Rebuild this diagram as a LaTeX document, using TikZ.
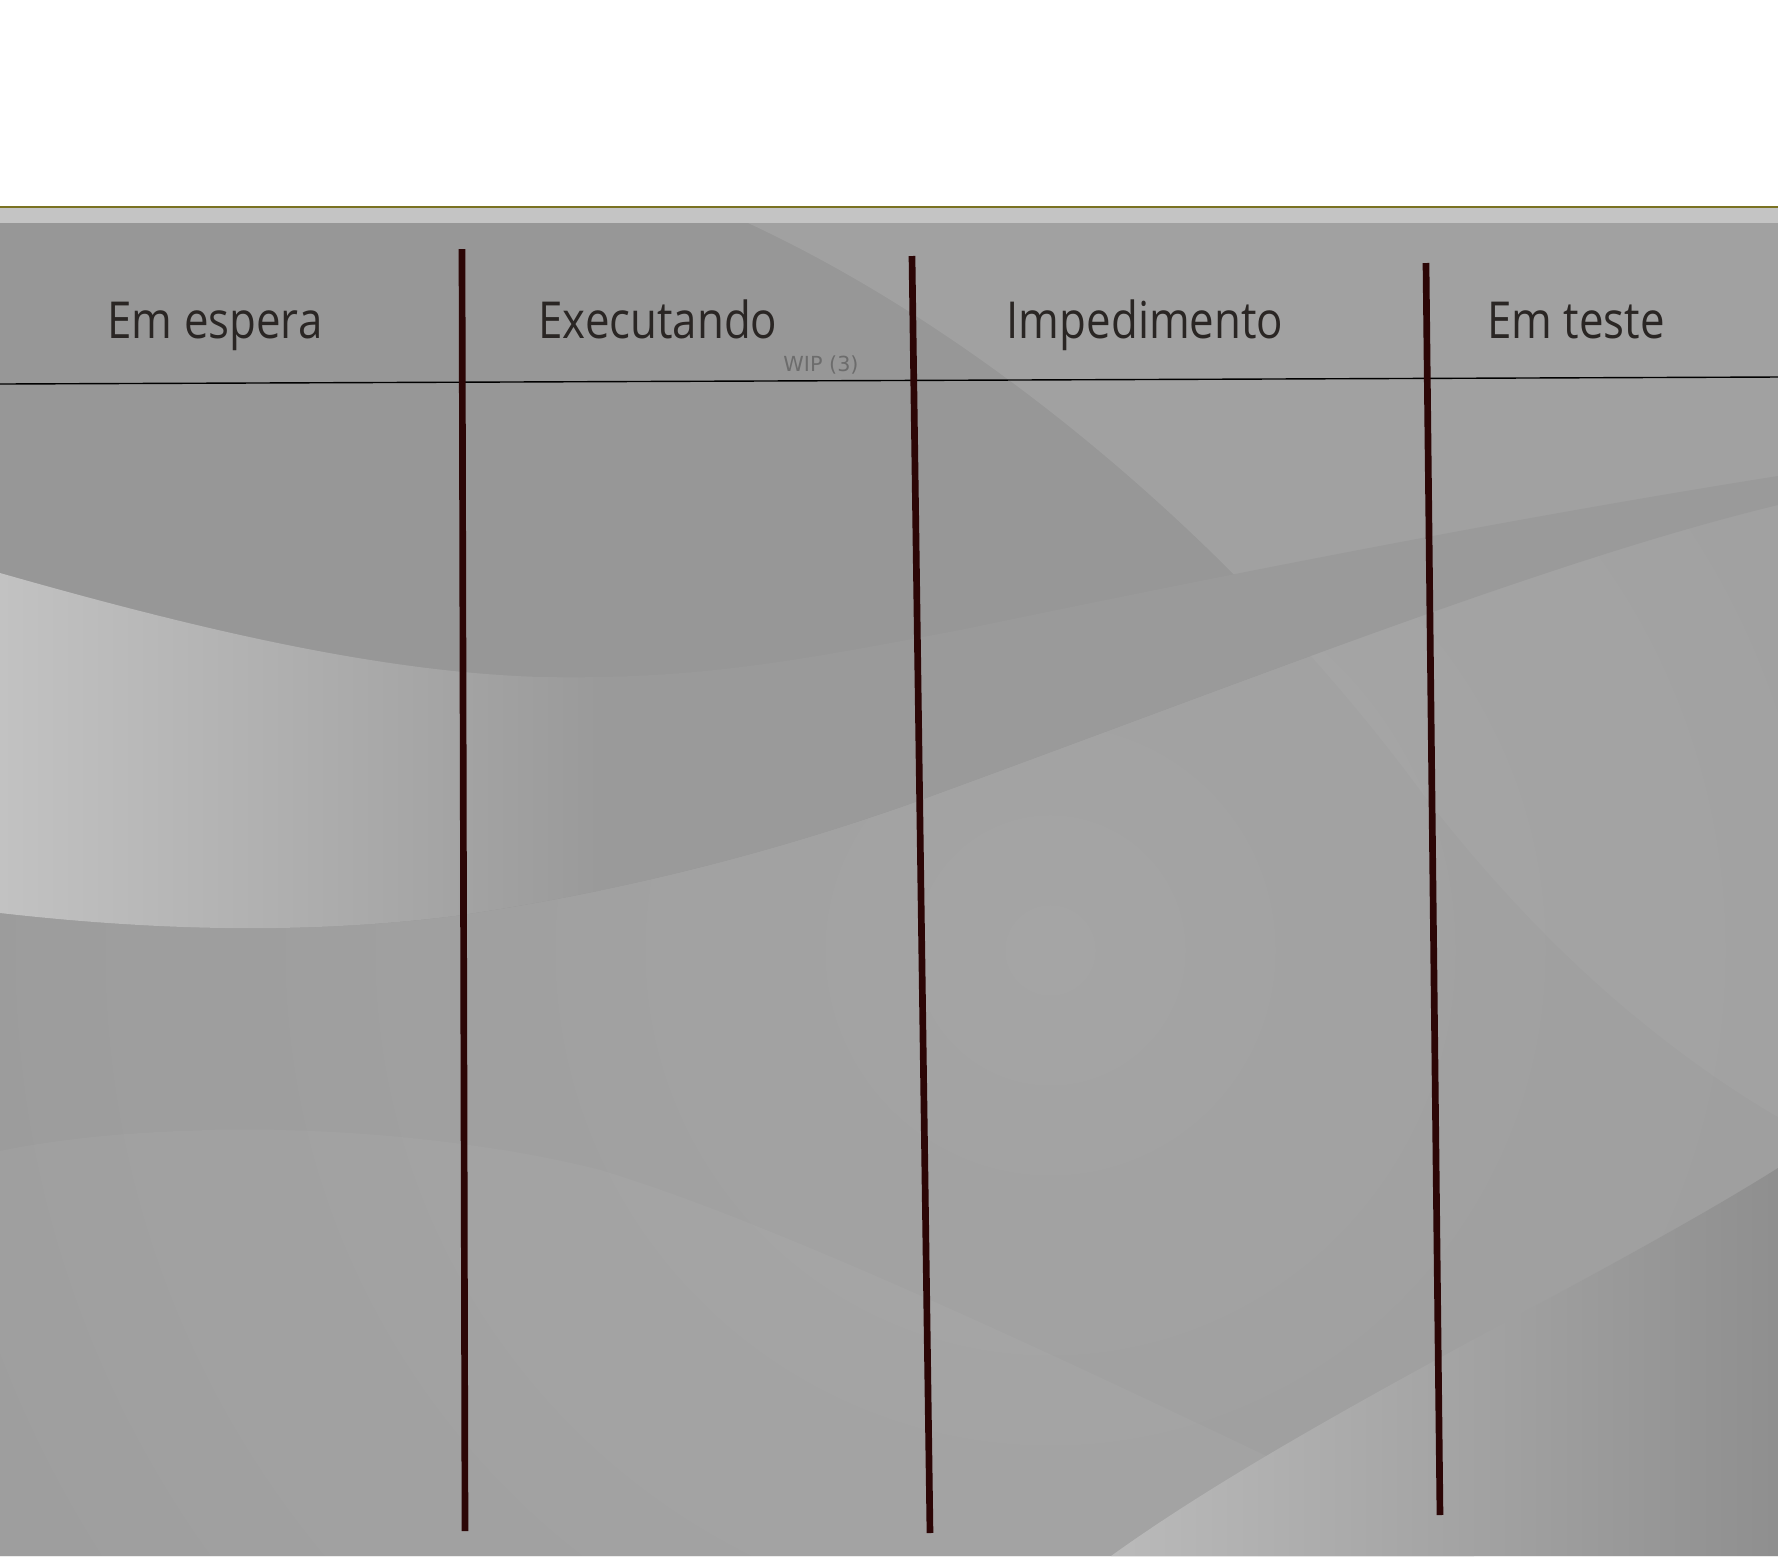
\documentclass[tikz,border=0pt]{standalone}
\usepackage{fontspec}
\setmainfont{Open Sans}[FakeStretch=0.86]
\newfontfamily\wipfont{DejaVu Sans}
\usetikzlibrary{positioning}
\definecolor{paneltop}{HTML}{979797}
\definecolor{panelmid}{HTML}{A1A1A1}
\definecolor{panelglow}{HTML}{ABABAB}
\definecolor{bandlight}{HTML}{C2C2C2}
\definecolor{banddark}{HTML}{9A9A9A}
\definecolor{stripgray}{HTML}{C4C4C4}
\definecolor{olivelinecol}{HTML}{7A7222}
\definecolor{divcolor}{HTML}{2C0606}
\definecolor{headtext}{HTML}{2A2624}
\definecolor{wiptext}{HTML}{6C6C6C}
\tikzstyle{header} = [text = headtext, font = \fontsize{14.5}{17}\selectfont, anchor = base, inner sep = 0pt]
\tikzstyle{wiplabel} = [text = wiptext, font = \wipfont\fontsize{5.9}{7}\selectfont, anchor = base, inner sep = 0pt]
\tikzstyle{divider} = [draw = divcolor, line width = 1.9pt]
\tikzstyle{rule} = [draw = black, line width = 0.4pt]
\begin{document}
\begin{tikzpicture}[x = 0.1mm, y = -0.1mm]
			\useasboundingbox (0, 0) rectangle (1778, 1556);
			% Background
			\fill [white] (0, 0) rectangle (1778, 207);
			\fill [stripgray] (0, 207) rectangle (1778, 223);
			\draw [olivelinecol, line width = 0.5pt] (0, 207) -- (1778, 207);
			\fill [paneltop] (0, 223) rectangle (1778, 1556);
			\fill [panelmid] (748, 223) .. controls (1000, 340) and (1250, 560) .. (1420, 790) .. controls (1550, 960) and (1680, 1060) .. (1778, 1117) -- (1778, 223) -- cycle;
			\fill [panelmid] (0, 1151) .. controls (150, 1120) and (400, 1120) .. (600, 1170) .. controls (800, 1230) and (1150, 1400) .. (1474, 1556) -- (0, 1556) -- cycle;
			\begin{scope}
				\clip (1778, 505) .. controls (1550, 560) and (1250, 680) .. (907, 805) .. controls (750, 860) and (600, 895) .. (454, 916) .. controls (300, 935) and (150, 930) .. (0, 913) -- (0, 1556) -- (1778, 1556) -- cycle;
				\shade [inner color = panelglow, outer color = paneltop, opacity = 0.7] (-750, -850) rectangle (2850, 2750);
			\end{scope}
			\begin{scope}
				\clip (0, 573) .. controls (200, 630) and (380, 672) .. (540, 677) .. controls (700, 680) and (800, 660) .. (960, 630) .. controls (1200, 580) and (1500, 520) .. (1778, 476) -- (1778, 505) .. controls (1550, 560) and (1250, 680) .. (907, 805) .. controls (750, 860) and (600, 895) .. (454, 916) .. controls (300, 935) and (150, 930) .. (0, 913) -- cycle;
				\fill [banddark] (0, 400) rectangle (1778, 1000);
				\shade [left color = bandlight, right color = banddark] (0, 400) rectangle (600, 1000);
			\end{scope}
			\begin{scope}
				\clip (1111, 1556) .. controls (1300, 1420) and (1600, 1280) .. (1778, 1168) -- (1778, 1556) -- cycle;
				\shade [left color = bandlight!80!banddark, right color = black!44] (1111, 1100) rectangle (1778, 1556);
			\end{scope}
			% Place nodes
			\node [header] (waiting) at (215, 338) {Em espera};
			\node [header] (running) at (658, 338) {Executando};
			\node [header] (blocked) at (1145, 338) {Impedimento};
			\node [header] (testing) at (1576, 338) {Em teste};
			\node [wiplabel] (wip) at (821, 371) {WIP (3)};
			\coordinate (ruleleft) at (0, 384);
			\coordinate (ruleright) at (1778, 377);
			\coordinate (sepatop) at (462, 249);
			\coordinate (sepabot) at (465, 1531);
			\coordinate (sepbtop) at (912, 256);
			\coordinate (sepbbot) at (930, 1533);
			\coordinate (sepctop) at (1426, 263);
			\coordinate (sepcbot) at (1440, 1515);
			% Draw edges
			\path [rule] (ruleleft) -- (ruleright);
			\path [divider] (sepatop) -- (sepabot);
			\path [divider] (sepbtop) -- (sepbbot);
			\path [divider] (sepctop) -- (sepcbot);
		\end{tikzpicture}
\end{document}
